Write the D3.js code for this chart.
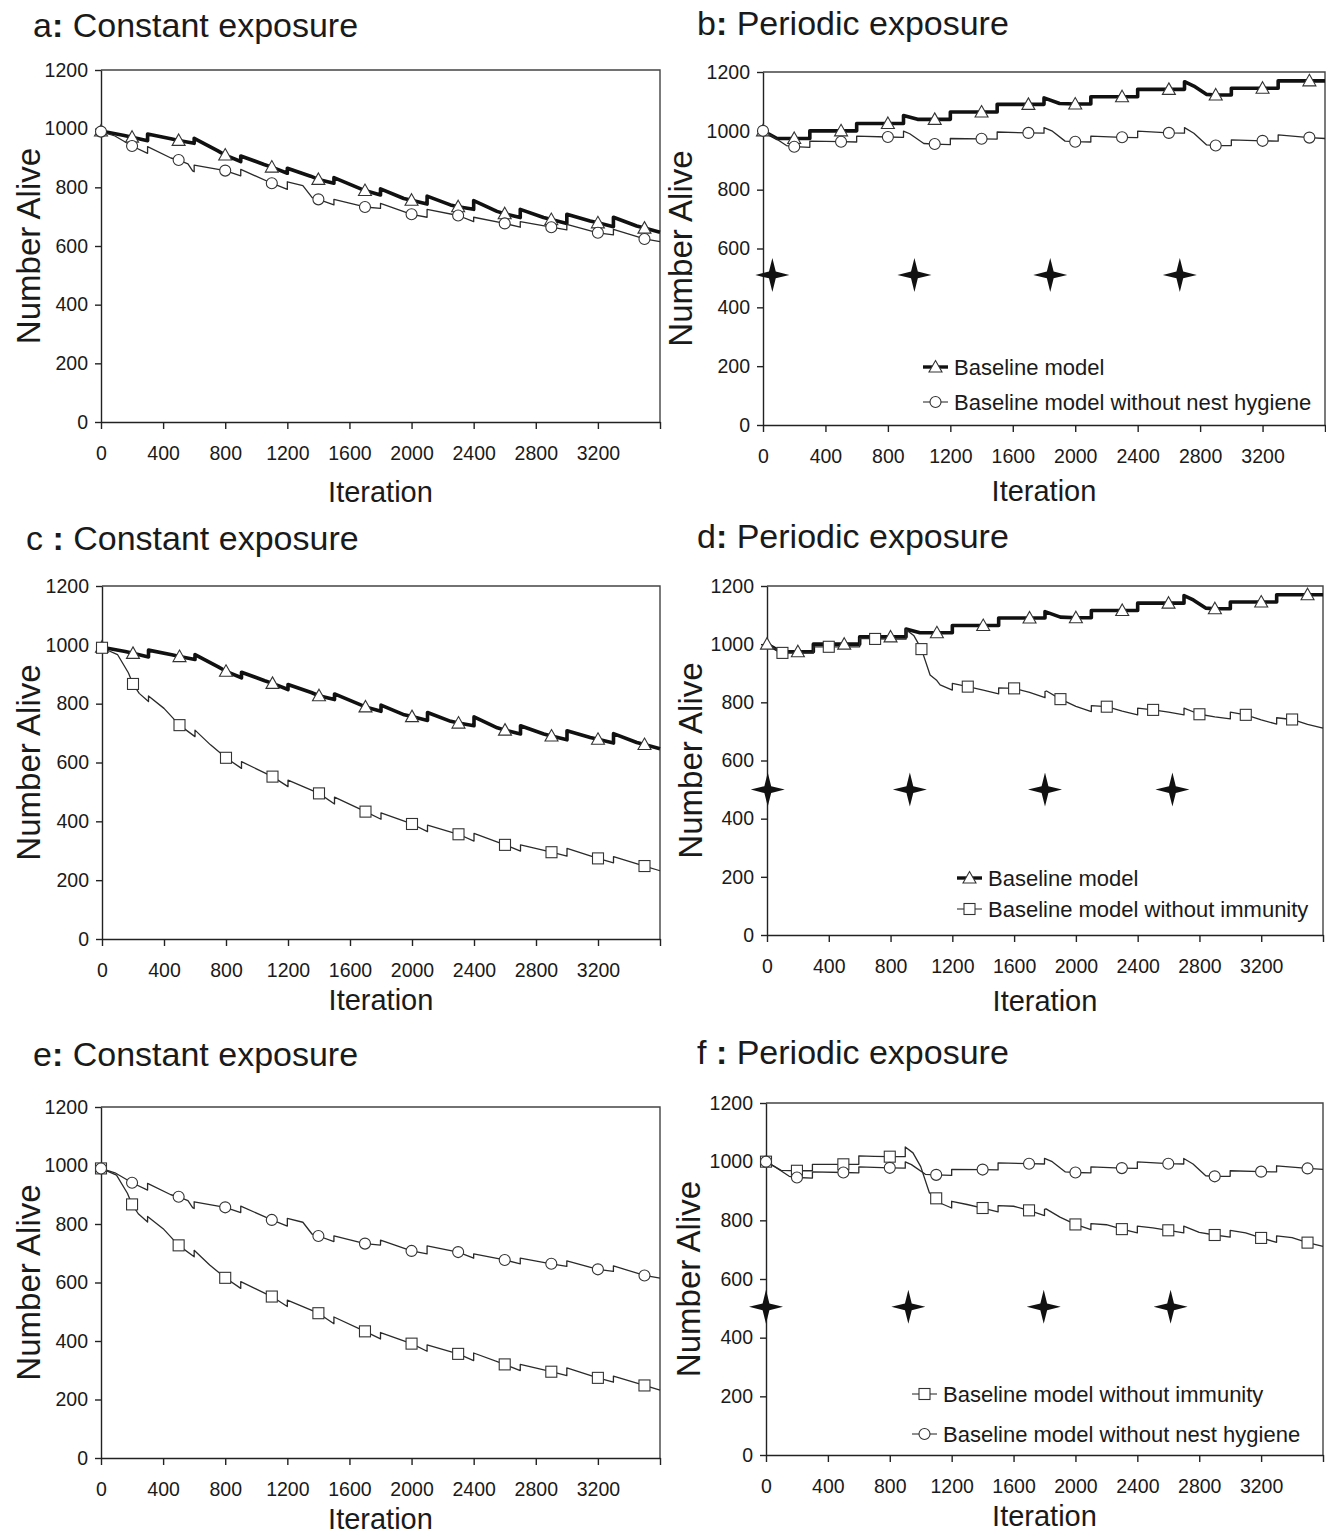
<!DOCTYPE html>
<html>
<head>
<meta charset="utf-8">
<script src="https://cdn.jsdelivr.net/npm/d3@7"></script>
<style>
  body { margin: 0; background: #fff; }
  svg { display: block; font-family: "Liberation Sans", Arial, Helvetica, sans-serif; }
</style>
</head>
<body>
<svg id="chart" width="1326" height="1534"></svg>
<script>
// tick values
var iterTicks = [0, 400, 800, 1200, 1600, 2000, 2400, 2800, 3200, 3600];
var aliveTicks = [0, 200, 400, 600, 800, 1000, 1200];

// [iteration, number alive]
var constBaseline = [[0,992],[150,977],[200,971],[300,959],[300,982],[450,966],[500,960],[600,950],[600,967],[750,925],[800,910],[900,888],[900,907],[1050,878],[1100,869],[1200,848],[1200,865],[1350,838],[1400,827],[1500,814],[1500,833],[1650,800],[1700,789],[1800,774],[1800,795],[1950,762],[2000,756],[2100,743],[2100,770],[2250,740],[2300,734],[2400,725],[2400,755],[2550,718],[2600,710],[2700,697],[2700,725],[2850,697],[2900,690],[3000,677],[3000,708],[3150,685],[3200,679],[3300,666],[3300,698],[3450,668],[3500,661],[3600,647]];
var constNoHygiene = [[0,990],[90,975],[200,941],[300,916],[300,939],[450,900],[500,893],[560,880],[590,856],[600,853],[600,876],[800,857],[900,839],[900,861],[1100,814],[1200,793],[1200,819],[1300,806],[1360,765],[1400,759],[1500,740],[1500,759],[1700,733],[1800,728],[1800,745],[2000,708],[2100,698],[2100,725],[2300,704],[2400,683],[2400,698],[2600,677],[2700,664],[2700,683],[2900,664],[3000,655],[3000,674],[3200,645],[3300,638],[3300,657],[3500,624],[3600,615]];
var constNoImmunity = [[0,990],[100,967],[170,905],[200,867],[240,835],[300,807],[300,826],[400,784],[500,727],[600,688],[600,710],[700,660],[800,616],[900,580],[900,603],[1100,552],[1200,518],[1200,540],[1400,495],[1500,459],[1500,482],[1700,433],[1800,407],[1800,429],[2000,391],[2100,365],[2100,387],[2300,356],[2400,333],[2400,359],[2600,320],[2700,299],[2700,320],[2900,295],[3000,282],[3000,308],[3200,274],[3300,259],[3300,280],[3500,248],[3600,232]];
var perBaseline = [[0,1000],[90,974],[200,974],[300,974],[300,1000],[500,1000],[600,1000],[600,1025],[800,1025],[900,1025],[900,1052],[990,1039],[1100,1039],[1200,1039],[1200,1064],[1400,1064],[1500,1064],[1500,1090],[1700,1090],[1800,1090],[1800,1112],[1900,1093],[2000,1091],[2100,1091],[2100,1116],[2300,1116],[2400,1116],[2400,1141],[2600,1141],[2700,1141],[2700,1167],[2760,1152],[2840,1124],[2900,1122],[3000,1122],[3000,1145],[3200,1145],[3300,1145],[3300,1170],[3500,1170],[3600,1170]];
var perNoHygiene = [[0,1000],[50,985],[150,950],[200,946],[300,944],[300,965],[500,963],[600,962],[600,982],[800,979],[900,978],[900,999],[940,990],[1030,957],[1100,955],[1200,953],[1200,974],[1400,973],[1500,972],[1500,996],[1700,993],[1800,992],[1800,1011],[1850,1000],[1935,965],[2000,963],[2100,962],[2100,982],[2300,978],[2400,977],[2400,999],[2600,993],[2700,992],[2700,1011],[2760,992],[2842,952],[2900,950],[3000,950],[3000,969],[3200,966],[3300,965],[3300,986],[3500,977],[3600,974]];
var perNoImmunity = [[0,1000],[95,971],[100,970],[200,969],[300,969],[300,991],[400,991],[500,991],[600,991],[600,1020],[700,1018],[800,1017],[900,1017],[900,1050],[950,1030],[1000,983],[1056,894],[1100,875],[1121,860],[1200,842],[1200,865],[1300,854],[1400,842],[1500,829],[1500,850],[1600,848],[1700,834],[1800,816],[1800,837],[1810,839],[1900,811],[2000,786],[2100,768],[2100,789],[2200,785],[2300,770],[2400,757],[2400,780],[2500,774],[2600,766],[2700,757],[2700,780],[2800,759],[2900,750],[3000,743],[3000,766],[3100,757],[3200,740],[3300,725],[3300,747],[3400,741],[3500,724],[3600,711]];

// iterations that carry a marker
var markStd = [0, 200, 500, 800, 1100, 1400, 1700, 2000, 2300, 2600, 2900, 3200, 3500];
var markShift = [100, 400, 700, 1000, 1300, 1600, 1900, 2200, 2500, 2800, 3100, 3400];

// exposure events [iteration, height]
var starsB = [[60,510],[970,510],[1840,510],[2670,510]];
var starsD = [[5,500],[925,500],[1800,500],[2625,500]];
var starsF = [[0,505],[920,505],[1795,505],[2615,505]];

var labBase = "Baseline model";
var labHyg = "Baseline model without nest hygiene";
var labImm = "Baseline model without immunity";

var panels = [
  { letter: "a", sep: ":", title: " Constant exposure", tx: 33, ty: 37,
    box: [101, 70, 660, 422], ylx: 28, xly: 502,
    series: [{ data: constBaseline, sym: "tri", thick: true, marks: markStd },
             { data: constNoHygiene, sym: "circle", marks: markStd }] },
  { letter: "b", sep: ":", title: " Periodic exposure", tx: 697, ty: 35,
    box: [763, 72, 1325, 425], ylx: 680, xly: 501, stars: starsB,
    series: [{ data: perBaseline, sym: "tri", thick: true, marks: markStd },
             { data: perNoHygiene, sym: "circle", marks: markStd }],
    legend: { x: 923, y: [367, 402], items: [["tri", true, labBase], ["circle", false, labHyg]] } },
  { letter: "c", sep: " :", title: " Constant exposure", tx: 26, ty: 550,
    box: [102, 586, 660, 939], ylx: 28, xly: 1010,
    series: [{ data: constBaseline, sym: "tri", thick: true, marks: markStd },
             { data: constNoImmunity, sym: "square", marks: markStd }] },
  { letter: "d", sep: ":", title: " Periodic exposure", tx: 697, ty: 548,
    box: [767, 586, 1323, 935], ylx: 690, xly: 1011, stars: starsD,
    series: [{ data: perBaseline, sym: "tri", thick: true, marks: markStd },
             { data: perNoImmunity, sym: "square", marks: markShift }],
    legend: { x: 957, y: [878, 909], items: [["tri", true, labBase], ["square", false, labImm]] } },
  { letter: "e", sep: ":", title: " Constant exposure", tx: 33, ty: 1066,
    box: [101, 1107, 660, 1458], ylx: 28, xly: 1529,
    series: [{ data: constNoImmunity, sym: "square", marks: markStd },
             { data: constNoHygiene, sym: "circle", marks: markStd }] },
  { letter: "f", sep: " :", title: " Periodic exposure", tx: 697, ty: 1064,
    box: [766, 1103, 1323, 1455], ylx: 688, xly: 1526, stars: starsF,
    series: [{ data: perNoImmunity, sym: "square", marks: markStd },
             { data: perNoHygiene, sym: "circle", marks: markStd }],
    legend: { x: 912, y: [1394, 1434], items: [["square", false, labImm], ["circle", false, labHyg]] } }
];

var svg = d3.select("#chart");

function drawSymbol(g, sym, cx, cy) {
  if (sym === "tri") {
    g.append("path")
      .attr("d", "M" + cx + "," + (cy - 6.5) + "L" + (cx + 6.5) + "," + (cy + 5) + "L" + (cx - 6.5) + "," + (cy + 5) + "Z");
  } else if (sym === "circle") {
    g.append("circle").attr("cx", cx).attr("cy", cy).attr("r", 5.5);
  } else {
    g.append("rect").attr("x", cx - 5.5).attr("y", cy - 5.5).attr("width", 11).attr("height", 11);
  }
}

function starPath(cx, cy) {
  var pts = [];
  for (var i = 0; i < 8; i++) {
    var a = i * Math.PI / 4 - Math.PI / 2;
    var r = i % 2 === 0 ? 17 : 4.8;
    pts.push([cx + r * Math.cos(a), cy + r * Math.sin(a)]);
  }
  return d3.line().curve(d3.curveLinearClosed)(pts);
}

panels.forEach(function (p) {
  var x = d3.scaleLinear().domain([0, 3600]).range([p.box[0], p.box[2]]);
  var y = d3.scaleLinear().domain([0, 1200]).range([p.box[3], p.box[1]]);
  var g = svg.append("g");

  // title
  var t = g.append("text").attr("x", p.tx).attr("y", p.ty)
    .attr("font-size", 34).attr("fill", "#1a1a1a");
  t.append("tspan").text(p.letter);
  t.append("tspan").attr("font-weight", "bold").text(p.sep);
  t.append("tspan").text(p.title);

  // frame
  g.append("path")
    .attr("d", "M" + p.box[0] + "," + p.box[1] + "H" + p.box[2] + "V" + p.box[3])
    .attr("fill", "none").attr("stroke", "#444").attr("stroke-width", 1.4);

  var xa = g.append("g").attr("transform", "translate(0," + p.box[3] + ")")
    .call(d3.axisBottom(x).tickValues(iterTicks).tickSize(7).tickSizeOuter(0).tickPadding(17)
      .tickFormat(function (d) { return d === 3600 ? "" : String(d); }));
  var ya = g.append("g").attr("transform", "translate(" + p.box[0] + ",0)")
    .call(d3.axisLeft(y).tickValues(aliveTicks).tickSize(6).tickSizeOuter(0).tickPadding(7)
      .tickFormat(d3.format("d")));
  [xa, ya].forEach(function (ax) {
    ax.selectAll("path, line").attr("stroke", "#222").attr("stroke-width", 1.4);
    ax.selectAll("text").attr("font-size", 19.5).attr("fill", "#1a1a1a")
      .attr("font-family", "'Liberation Sans', Arial, sans-serif");
  });

  // axis titles
  g.append("text").attr("x", (p.box[0] + p.box[2]) / 2).attr("y", p.xly)
    .attr("text-anchor", "middle").attr("font-size", 29).attr("fill", "#1a1a1a").text("Iteration");
  g.append("text")
    .attr("transform", "translate(" + p.ylx + "," + ((p.box[1] + p.box[3]) / 2) + ") rotate(-90)")
    .attr("text-anchor", "middle").attr("dy", "0.35em").attr("font-size", 33).attr("fill", "#1a1a1a")
    .text("Number Alive");

  // lines
  var line = d3.line().x(function (d) { return x(d[0]); }).y(function (d) { return y(d[1]); });
  p.series.forEach(function (s) {
    g.append("path").datum(s.data).attr("d", line)
      .attr("fill", "none").attr("stroke", s.thick ? "#111" : "#2a2a2a")
      .attr("stroke-width", s.thick ? 3.6 : 1.3).attr("stroke-linejoin", "round");
  });
  p.series.forEach(function (s) {
    var mg = g.append("g").attr("fill", "#fff").attr("stroke", "#333").attr("stroke-width", 1.1);
    s.marks.forEach(function (m) {
      var pt = s.data.find(function (d) { return d[0] === m; });
      if (pt) drawSymbol(mg, s.sym, x(pt[0]), y(pt[1]));
    });
  });

  // exposure stars
  if (p.stars) {
    g.selectAll(".star").data(p.stars).enter().append("path")
      .attr("d", function (d) { return starPath(x(d[0]), y(d[1])); })
      .attr("fill", "#111");
  }

  // legend
  if (p.legend) {
    p.legend.items.forEach(function (it, i) {
      var ly = p.legend.y[i];
      var lg = g.append("g");
      lg.append("line").attr("x1", p.legend.x).attr("x2", p.legend.x + 25)
        .attr("y1", ly).attr("y2", ly).attr("stroke", it[1] ? "#111" : "#444")
        .attr("stroke-width", it[1] ? 3.4 : 1.2);
      var mg = lg.append("g").attr("fill", "#fff").attr("stroke", "#333").attr("stroke-width", 1.1);
      drawSymbol(mg, it[0], p.legend.x + 12.5, ly);
      lg.append("text").attr("x", p.legend.x + 31).attr("y", ly).attr("dy", "0.36em")
        .attr("font-size", 22).attr("fill", "#1a1a1a").text(it[2]);
    });
  }
});
</script>
</body>
</html>
